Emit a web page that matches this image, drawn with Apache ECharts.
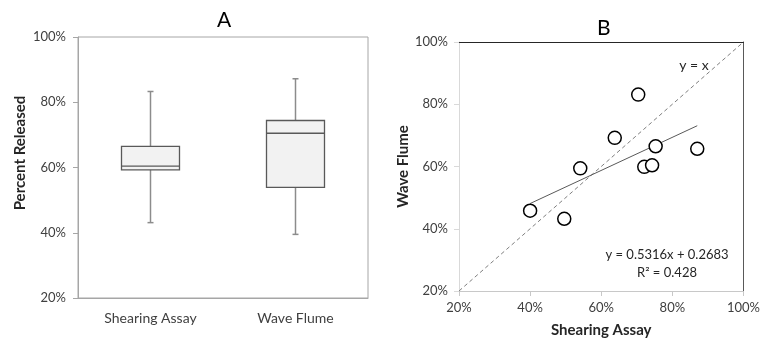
<!DOCTYPE html>
<html>
<head>
<meta charset="utf-8">
<script src="https://cdn.jsdelivr.net/npm/echarts@6/dist/echarts.min.js"></script>
<style>
html,body{margin:0;padding:0;background:#fff;}
#chart{width:763px;height:343px;}
</style>
</head>
<body>
<div id="chart"></div>
<script>
// ---- Panel A: box plot ----
const categories = ['Shearing Assay', 'Wave Flume'];
const boxMin    = [43.1, 39.5];
const boxQ1     = [59.3, 53.9];
const boxMedian = [60.4, 70.5];
const boxQ3     = [66.5, 74.4];
const boxMax    = [83.3, 87.2];

// ---- Panel B: scatter ----
const shearingAssay = [40.0, 49.6, 54.1, 63.8, 70.4, 72.1, 74.3, 75.3, 87.0];
const waveFlume     = [45.8, 43.2, 59.4, 69.2, 83.1, 59.9, 60.4, 66.5, 65.7];
const trendX = [40.0, 87.0];
const trendY = [48.1, 73.1];
const identityX = [20, 100];
const identityY = [20, 100];

const percentTicks = [20, 40, 60, 80, 100];

const FONT = 'Lato, "Open Sans", sans-serif';
const LABEL = '#404040';

const boxData = categories.map((c, i) => [i, boxMin[i], boxQ1[i], boxMedian[i], boxQ3[i], boxMax[i]]);
const scatterData = shearingAssay.map((x, i) => [x, waveFlume[i]]);
const trendData = trendX.map((x, i) => [x, trendY[i]]);
const identityData = identityX.map((x, i) => [x, identityY[i]]);

const chart = echarts.init(document.getElementById('chart'), null, {renderer: 'canvas'});

const pctLabel = {formatter: '{value}%', color: LABEL, fontSize: 13, fontFamily: FONT};

const option = {
  backgroundColor: '#fff',
  animation: false,
  textStyle: {fontFamily: FONT},
  title: [
    {text: 'A', left: 212, top: 5, textStyle: {fontSize: 21, fontWeight: 'normal', color: '#000', fontFamily: FONT}},
    {text: 'B', left: 592, top: 13, textStyle: {fontSize: 21, fontWeight: 'normal', color: '#000', fontFamily: FONT}}
  ],
  grid: [
    {left: 78, top: 37, width: 290, height: 261, show: true, borderColor: '#a6a6a6', borderWidth: 1, backgroundColor: 'transparent'},
    {left: 459, top: 42, width: 288, height: 252}
  ],
  xAxis: [
    {gridIndex: 0, type: 'category', data: categories, boundaryGap: true,
     axisLine: {show: true, lineStyle: {color: '#a6a6a6'}}, axisTick: {show: false},
     axisLabel: {color: LABEL, fontSize: 14, fontFamily: FONT, margin: 13}},
    {gridIndex: 1, type: 'value', min: 20, max: 100, interval: 20,
     axisLine: {show: true, onZero: false, lineStyle: {color: '#c8c8c8'}},
     axisTick: {show: true, length: 5, lineStyle: {color: '#c8c8c8'}},
     splitLine: {show: false},
     axisLabel: Object.assign({margin: 10}, pctLabel),
     name: 'Shearing Assay', nameLocation: 'middle', nameGap: 32,
     nameTextStyle: {fontSize: 15, fontWeight: 'bold', color: '#262626', fontFamily: FONT}},
    {gridIndex: 1, type: 'value', position: 'top', min: 20, max: 100,
     axisLine: {show: true, onZero: false, lineStyle: {color: '#262626', width: 1}},
     axisTick: {show: false}, axisLabel: {show: false}, splitLine: {show: false}}
  ],
  yAxis: [
    {gridIndex: 0, type: 'value', min: 20, max: 100, interval: 20,
     axisLine: {show: true, lineStyle: {color: '#a6a6a6'}},
     axisTick: {show: true, length: 5, lineStyle: {color: '#a6a6a6'}},
     splitLine: {show: false},
     axisLabel: Object.assign({margin: 12}, pctLabel)},
    {gridIndex: 1, type: 'value', min: 20, max: 100, interval: 20,
     axisLine: {show: true, onZero: false, lineStyle: {color: '#d9d9d9'}},
     axisTick: {show: true, length: 5, lineStyle: {color: '#d9d9d9'}},
     splitLine: {show: false},
     axisLabel: Object.assign({margin: 11}, pctLabel),
     name: 'Wave Flume', nameLocation: 'middle', nameGap: 45,
     nameTextStyle: {fontSize: 15, fontWeight: 'bold', color: '#262626', fontFamily: FONT}},
    {gridIndex: 1, type: 'value', position: 'right', min: 20, max: 100,
     axisLine: {show: true, onZero: false, lineStyle: {color: '#595959'}},
     axisTick: {show: false}, axisLabel: {show: false}, splitLine: {show: false}}
  ],
  graphic: [
    {type: 'text', x: 20, y: 153, rotation: Math.PI / 2,
     style: {text: 'Percent Released', font: 'bold 15px ' + FONT, fill: '#262626',
             textAlign: 'center', textVerticalAlign: 'middle'}},
    {type: 'text', x: 694, y: 65,
     style: {text: 'y = x', font: '14px ' + FONT, fill: '#262626', textAlign: 'center', textVerticalAlign: 'middle'}},
    {type: 'text', x: 667, y: 255,
     style: {text: 'y = 0.5316x + 0.2683', font: '13px ' + FONT, fill: '#262626', textAlign: 'center', textVerticalAlign: 'middle'}},
    {type: 'text', x: 667, y: 273,
     style: {text: 'R² = 0.428', font: '13px ' + FONT, fill: '#262626', textAlign: 'center', textVerticalAlign: 'middle'}}
  ],
  series: [
    {
      type: 'custom', xAxisIndex: 0, yAxisIndex: 0,
      data: boxData,
      encode: {x: 0, y: [1, 2, 3, 4, 5]},
      renderItem: function (params, api) {
        const i = api.value(0);
        const p = (k) => api.coord([i, api.value(k)]);
        const pMin = p(1), pQ1 = p(2), pMed = p(3), pQ3 = p(4), pMax = p(5);
        const w = api.size([1, 0])[0] * 0.4;
        const cx = pMin[0];
        const cap = 3;
        const whisk = {stroke: '#8c8c8c', lineWidth: 1.5};
        const dark = {stroke: '#595959', lineWidth: 1.3};
        return {
          type: 'group',
          children: [
            {type: 'line', shape: {x1: cx, y1: pMax[1], x2: cx, y2: pQ3[1]}, style: whisk},
            {type: 'line', shape: {x1: cx, y1: pQ1[1], x2: cx, y2: pMin[1]}, style: whisk},
            {type: 'line', shape: {x1: cx - cap, y1: pMax[1], x2: cx + cap, y2: pMax[1]}, style: whisk},
            {type: 'line', shape: {x1: cx - cap, y1: pMin[1], x2: cx + cap, y2: pMin[1]}, style: whisk},
            {type: 'rect', shape: {x: cx - w / 2, y: pQ3[1], width: w, height: pQ1[1] - pQ3[1]},
             style: {fill: '#f2f2f2', stroke: '#595959', lineWidth: 1.3}},
            {type: 'line', shape: {x1: cx - w / 2, y1: pMed[1], x2: cx + w / 2, y2: pMed[1]}, style: dark}
          ]
        };
      }
    },
    {
      type: 'line', xAxisIndex: 1, yAxisIndex: 1, data: identityData,
      symbol: 'none', lineStyle: {color: '#7f7f7f', width: 1, type: [4, 3]}, z: 1
    },
    {
      type: 'line', xAxisIndex: 1, yAxisIndex: 1, data: trendData,
      symbol: 'none', lineStyle: {color: '#595959', width: 1}, z: 1
    },
    {
      type: 'scatter', xAxisIndex: 1, yAxisIndex: 1, data: scatterData,
      symbol: 'circle', symbolSize: 13,
      itemStyle: {color: '#fff', borderColor: '#000', borderWidth: 1.5, opacity: 1}, z: 3
    }
  ]
};
chart.setOption(option);
</script>
</body>
</html>
